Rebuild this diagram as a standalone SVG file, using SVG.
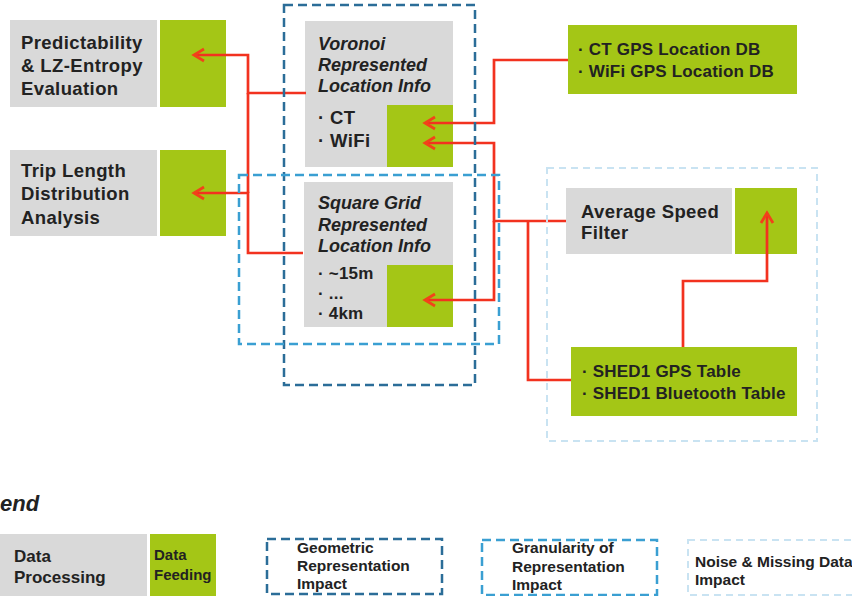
<svg xmlns="http://www.w3.org/2000/svg" width="852" height="596" viewBox="0 0 852 596">
<style>
text{font-family:"Liberation Sans",Arial,sans-serif;font-weight:bold;fill:#222;}
.t{font-size:18.5px;letter-spacing:0.4px;}
.it{font-size:18px;font-style:italic;}
.db{font-size:17px;letter-spacing:0.2px;}
.lg{font-size:15.5px;}
.gray{fill:#d9d9d9;}
.green{fill:#a4c616;}
.geo{fill:none;stroke:#2b6d98;stroke-width:2.5;stroke-dasharray:9 5;}
.gran{fill:none;stroke:#3a9fd2;stroke-width:2.5;stroke-dasharray:9 5;}
.noise{fill:none;stroke:#c9e3f2;stroke-width:2;stroke-dasharray:7 5;}
.c{fill:none;stroke:#f2321f;stroke-width:2.7;stroke-linejoin:miter;}
</style>
<defs>
<marker id="ah" markerUnits="userSpaceOnUse" markerWidth="16" markerHeight="16" refX="13" refY="8" orient="auto">
<path d="M3,2 L13,8 L3,14" fill="none" stroke="#f2421a" stroke-width="2.8"/>
</marker>
</defs>
<rect width="852" height="596" fill="#fff"/>

<g id="predictability">
<rect class="gray" x="10" y="20" width="147" height="87"/>
<rect class="green" x="160" y="20" width="66" height="87"/>
<text class="t" x="21" y="49">Predictability</text>
<text class="t" x="21" y="72">&amp; LZ-Entropy</text>
<text class="t" x="21" y="95">Evaluation</text>
</g>
<g id="trip-length">
<rect class="gray" x="10" y="150" width="147" height="86"/>
<rect class="green" x="160" y="150" width="66" height="86"/>
<text class="t" x="21" y="177">Trip Length</text>
<text class="t" x="21" y="200">Distribution</text>
<text class="t" x="21" y="224">Analysis</text>
</g>
<g id="voronoi">
<rect class="gray" x="305" y="21" width="148" height="146"/>
<rect class="green" x="387" y="105" width="66" height="62"/>
<text class="it" x="318" y="50">Voronoi</text>
<text class="it" x="318" y="71">Represented</text>
<text class="it" x="318" y="92">Location Info</text>
<text class="t" x="318" y="124">· CT</text>
<text class="t" x="318" y="147">· WiFi</text>
</g>
<g id="square-grid">
<rect class="gray" x="304" y="182" width="149" height="145"/>
<rect class="green" x="387" y="265" width="66" height="62"/>
<text class="it" x="318" y="209">Square Grid</text>
<text class="it" x="318" y="231">Represented</text>
<text class="it" x="318" y="252">Location Info</text>
<text class="db" x="318" y="279">· ~15m</text>
<text class="db" x="318" y="299">· ...</text>
<text class="db" x="318" y="319">· 4km</text>
</g>
<g id="location-db">
<rect class="green" x="568" y="25" width="229" height="69"/>
<text class="db" x="578" y="55">· CT GPS Location DB</text>
<text class="db" x="578" y="77">· WiFi GPS Location DB</text>
</g>
<g id="speed-filter">
<rect class="gray" x="566" y="188" width="166" height="66"/>
<rect class="green" x="735" y="188" width="62" height="66"/>
<text class="t" x="581" y="218">Average Speed</text>
<text class="t" x="581" y="239">Filter</text>
</g>
<g id="shed1">
<rect class="green" x="571" y="347" width="226" height="69"/>
<text class="db" x="582" y="377">· SHED1 GPS Table</text>
<text class="db" x="582" y="399">· SHED1 Bluetooth Table</text>
</g>

<g id="connectors">
<path class="c" d="M306,93 H248 V55 H194" marker-end="url(#ah)"/>
<path class="c" d="M303,253 H248 V193 H194" marker-end="url(#ah)"/>
<path class="c" d="M248,93 V193"/>
<path class="c" d="M568,60 H494 V123 H425" marker-end="url(#ah)"/>
<path class="c" d="M566,221 H494 V143 H425" marker-end="url(#ah)"/>
<path class="c" d="M494,221 V300 H425" marker-end="url(#ah)"/>
<path class="c" d="M571,380 H528 V221"/>
<path class="c" d="M683,347 V281 H767 V213" marker-end="url(#ah)"/>
</g>

<g id="impact-geometric"><rect class="geo" x="284" y="5" width="191" height="380"/></g>
<g id="impact-granularity"><rect class="gran" x="239" y="175" width="260" height="169"/></g>
<g id="impact-noise"><rect class="noise" x="547" y="168" width="270" height="273"/></g>

<g id="legend">
<text x="0" y="511" style="font-size:22px;font-style:italic;">end</text>
<g id="legend-processing">
<rect class="gray" x="0" y="534" width="147" height="62"/>
<text x="14" y="562" style="font-size:17px;">Data</text>
<text x="14" y="583" style="font-size:17px;">Processing</text>
</g>
<g id="legend-feeding">
<rect class="green" x="150" y="534" width="66" height="62"/>
<text x="154" y="560" style="font-size:15px;">Data</text>
<text x="154" y="580" style="font-size:15px;">Feeding</text>
</g>
<g id="legend-geometric">
<rect class="geo" x="267" y="539" width="175" height="55"/>
<text class="lg" x="297" y="553">Geometric</text>
<text class="lg" x="297" y="571">Representation</text>
<text class="lg" x="297" y="589">Impact</text>
</g>
<g id="legend-granularity">
<rect class="gran" x="482" y="540" width="175" height="55"/>
<text class="lg" x="512" y="553">Granularity of</text>
<text class="lg" x="512" y="572">Representation</text>
<text class="lg" x="512" y="590">Impact</text>
</g>
<g id="legend-noise">
<rect class="noise" x="688" y="540" width="175" height="55"/>
<text class="lg" x="695" y="567">Noise &amp; Missing Data</text>
<text class="lg" x="695" y="585">Impact</text>
</g>
</g>
</svg>
